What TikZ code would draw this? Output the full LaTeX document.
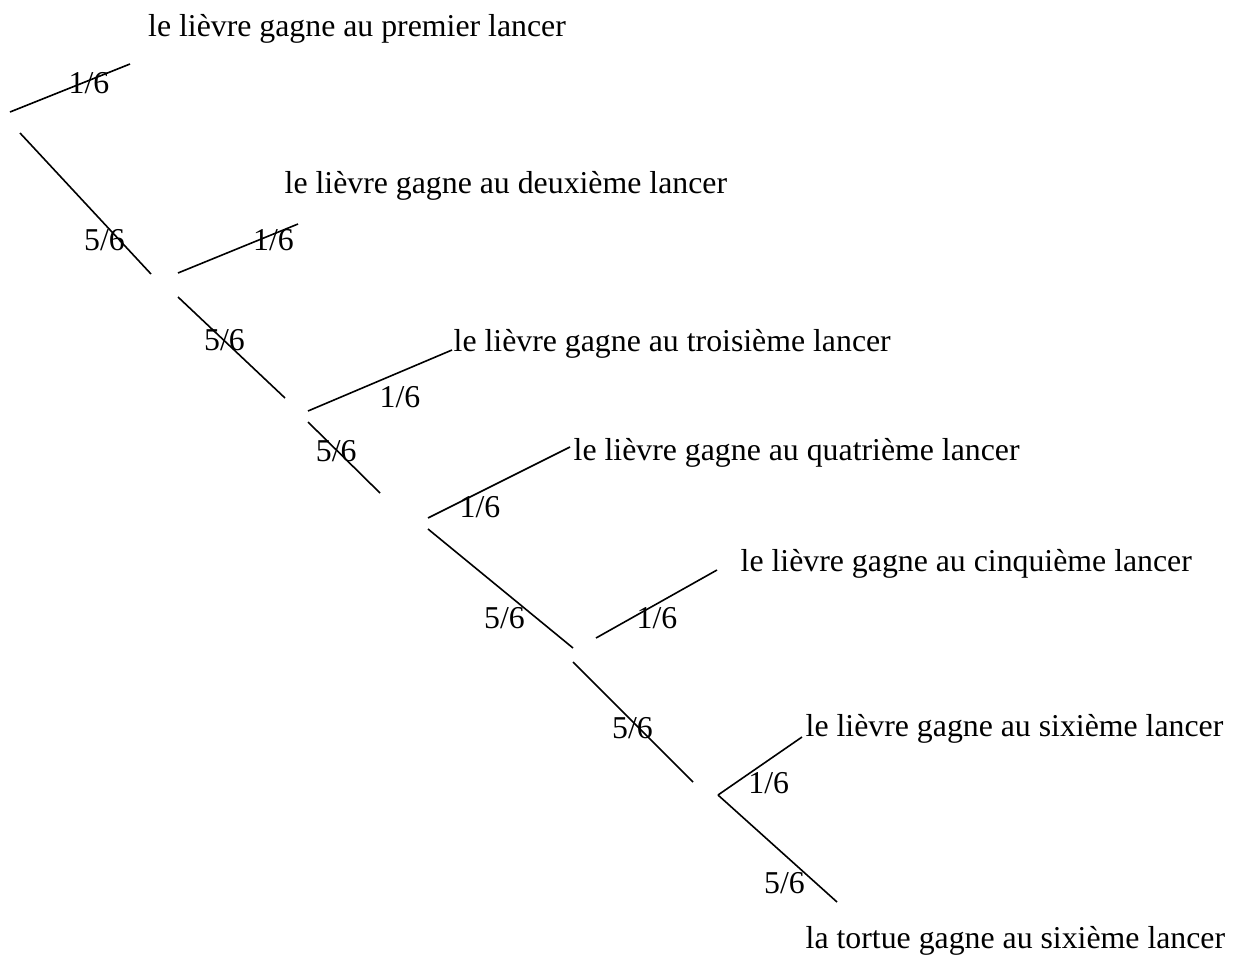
\documentclass[tikz,border=0pt]{standalone}
\usepackage{fontspec}
\setmainfont{Liberation Serif}
\begin{document}
\begin{tikzpicture}[x=1pt,y=-1pt,
  branch/.style={line width=1.6pt},
  txt/.style={anchor=base west,inner sep=0pt,font=\fontsize{31.8}{38}\selectfont},
  prob/.style={anchor=base west,inner sep=0pt,font=\fontsize{31.8}{38}\selectfont}]
\useasboundingbox (0,0) rectangle (1238,956);
% coordinates of branch ends
\coordinate (a1s) at (10,112);  \coordinate (a1e) at (130,64);
\coordinate (b1s) at (20,133);  \coordinate (b1e) at (151,274);
\coordinate (a2s) at (178,273); \coordinate (a2e) at (298,224);
\coordinate (b2s) at (178,297); \coordinate (b2e) at (285,398);
\coordinate (a3s) at (308,411); \coordinate (a3e) at (452,350);
\coordinate (b3s) at (308,422); \coordinate (b3e) at (380,493);
\coordinate (a4s) at (428,518); \coordinate (a4e) at (570,447);
\coordinate (b4s) at (428,529); \coordinate (b4e) at (573,648);
\coordinate (a5s) at (596,638); \coordinate (a5e) at (717,570);
\coordinate (b5s) at (573,662); \coordinate (b5e) at (693,782);
\coordinate (n6) at (718,795);
\coordinate (a6e) at (802,737);
\coordinate (b6e) at (837,902);
% branches
\draw[branch] (a1s) -- (a1e);
\draw[branch] (b1s) -- (b1e);
\draw[branch] (a2s) -- (a2e);
\draw[branch] (b2s) -- (b2e);
\draw[branch] (a3s) -- (a3e);
\draw[branch] (b3s) -- (b3e);
\draw[branch] (a4s) -- (a4e);
\draw[branch] (b4s) -- (b4e);
\draw[branch] (a5s) -- (a5e);
\draw[branch] (b5s) -- (b5e);
\draw[branch] (n6) -- (a6e);
\draw[branch] (n6) -- (b6e);
% outcome texts
\node[txt] (t1) at (148,36.7) {le lièvre gagne au premier lancer};
\node[txt] (t2) at (284.5,193.3) {le lièvre gagne au deuxième lancer};
\node[txt] (t3) at (453.5,351.7) {le lièvre gagne au troisième lancer};
\node[txt] (t4) at (573.5,460) {le lièvre gagne au quatrième lancer};
\node[txt] (t5) at (740.5,571.7) {le lièvre gagne au cinquième lancer};
\node[txt] (t6) at (805.5,736.7) {le lièvre gagne au sixième lancer};
\node[txt] (t7) at (805.5,948.3) {la tortue gagne au sixième lancer};
% probabilities
\node[prob] (p1) at (68.5,93) {1/6};
\node[prob] (q1) at (84,250) {5/6};
\node[prob] (p2) at (253,250) {1/6};
\node[prob] (q2) at (204,350) {5/6};
\node[prob] (p3) at (379.5,407) {1/6};
\node[prob] (q3) at (315.7,461) {5/6};
\node[prob] (p4) at (459.5,517) {1/6};
\node[prob] (q4) at (484,628) {5/6};
\node[prob] (p5) at (636.5,628) {1/6};
\node[prob] (q5) at (612,738) {5/6};
\node[prob] (p6) at (748.2,793) {1/6};
\node[prob] (q6) at (764,893) {5/6};
\end{tikzpicture}
\end{document}
